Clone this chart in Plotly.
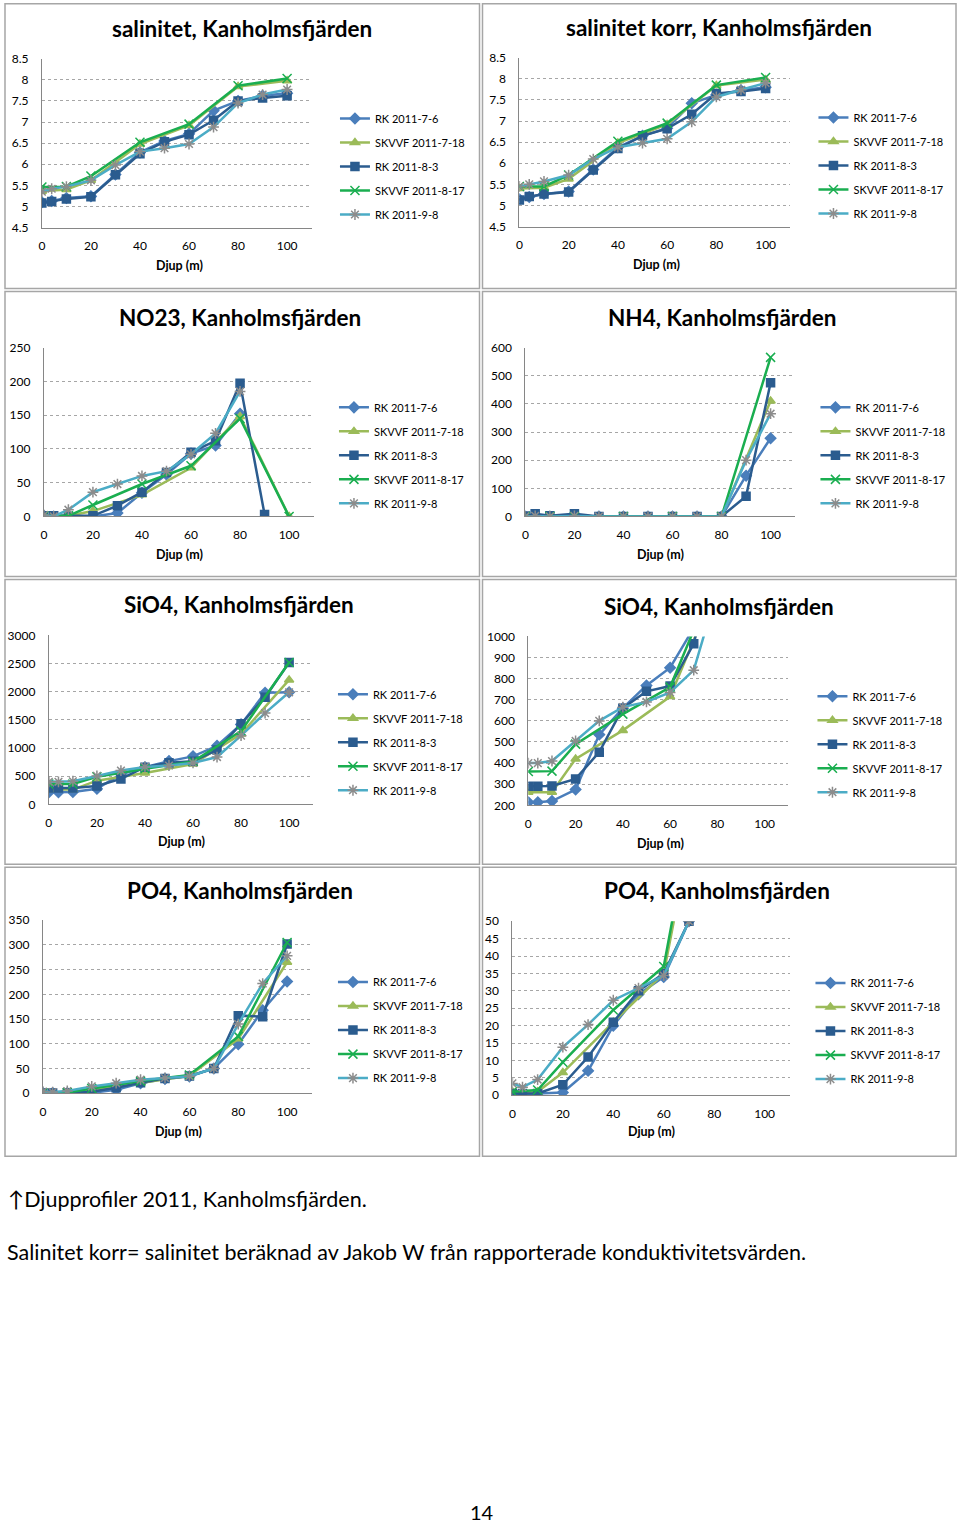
import plotly.graph_objects as go

# ---------------- data ----------------
DEPTH_RK = [0, 4, 10, 20, 30, 40, 50, 60, 70, 80, 90, 100]
DEPTH_SKVVF = [0, 10, 20, 40, 60, 80, 100]

SERIES_NAMES = ["RK 2011-7-6", "SKVVF 2011-7-18", "RK 2011-8-3", "SKVVF 2011-8-17", "RK 2011-9-8"]

sal_rk_0706 = [5.10, 5.13, 5.20, 5.24, 5.76, 6.28, 6.55, 6.72, 7.27, 7.50, 7.62, 7.68]
sal_sk_0718 = [5.36, 5.40, 5.62, 6.48, 6.92, 7.84, 7.98]
sal_rk_0803 = [5.08, 5.12, 5.18, 5.23, 5.75, 6.25, 6.53, 6.70, 7.04, 7.50, 7.57, 7.62]
sal_sk_0817 = [5.46, 5.47, 5.72, 6.52, 6.95, 7.86, 8.03]
sal_rk_0908 = [5.35, 5.42, 5.47, 5.62, 5.98, 6.30, 6.38, 6.48, 6.88, 7.45, 7.65, 7.77]

salk_rk_0706 = [5.15, 5.20, 5.27, 5.33, 5.85, 6.38, 6.65, 6.83, 7.42, 7.62, 7.73, 7.80]
salk_sk_0718 = [5.40, 5.42, 5.63, 6.48, 6.92, 7.84, 7.98]
salk_rk_0803 = [5.13, 5.21, 5.27, 5.32, 5.84, 6.35, 6.65, 6.82, 7.16, 7.65, 7.70, 7.77]
salk_sk_0817 = [5.45, 5.45, 5.72, 6.52, 6.95, 7.85, 8.03]
salk_rk_0908 = [5.45, 5.50, 5.57, 5.72, 6.10, 6.38, 6.48, 6.58, 6.98, 7.57, 7.74, 7.90]

no23_rk_0706 = [1, 0, 0, 0, 5, 35, 62, 93, 105, 152, None, None]
no23_sk_0718 = [1, 1, 8, 32, 72, 148, 0]
no23_rk_0803 = [1, 1, 0, 1, 16, 36, 65, 95, 112, 197, 3, None]
no23_sk_0817 = [1, 1, 17, 48, 75, 145, 0]
no23_rk_0908 = [2, 0, 10, 36, 48, 60, 67, 92, 123, 185, None, None]

nh4_rk_0706 = [0, 2, 0, 3, 0, 0, 0, 0, 0, 0, 145, 278]
nh4_sk_0718 = [0, 0, 0, 0, 0, 0, 410]
nh4_rk_0803 = [2, 10, 3, 10, 0, 0, 0, 0, 0, 0, 72, 475]
nh4_sk_0817 = [0, 0, 0, 0, 0, 0, 565]
nh4_rk_0908 = [0, 2, 0, 2, 0, 0, 0, 0, 0, 0, 200, 365]

sio4_rk_0706 = [215, 215, 220, 275, 535, 660, 768, 852, 1040, 1420, 1980, 1990]
sio4_sk_0718 = [262, 262, 420, 555, 715, 1250, 2210]
sio4_rk_0803 = [290, 290, 292, 325, 452, 660, 740, 765, 965, 1430, 1900, 2520]
sio4_sk_0817 = [360, 362, 490, 632, 760, 1300, 2520]
sio4_rk_0908 = [400, 400, 410, 505, 600, 665, 690, 735, 840, 1220, 1620, 1990]

po4_rk_0706 = [0.3, 0.3, 0.5, 0.8, 7, 20, 29, 34, 50, 99, 168, 226]
po4_sk_0718 = [1, 1, 6.5, 21, 35, 110, 265]
po4_rk_0803 = [0.5, 0.5, 0.5, 3, 11, 21, 30, 35, 50, 157, 155, 302]
po4_sk_0817 = [1, 1.5, 9.5, 24.5, 37, 115, 305]
po4_rk_0908 = [3.4, 2.3, 4.5, 13.8, 20.3, 27.3, 30.8, 34.4, 50, 140, 222, 278]

TITLES = ["salinitet, Kanholmsfjärden", "salinitet korr, Kanholmsfjärden",
          "NO23, Kanholmsfjärden", "NH4, Kanholmsfjärden",
          "SiO4, Kanholmsfjärden", "SiO4, Kanholmsfjärden",
          "PO4, Kanholmsfjärden", "PO4, Kanholmsfjärden"]
X_TITLE = "Djup (m)"
CAPTION1 = "\u2191Djupprofiler 2011, Kanholmsfjärden."
CAPTION2 = "Salinitet korr= salinitet beräknad av Jakob W från rapporterade konduktivitetsvärden."
PAGE_NO = "14"

PANEL_DATA = [
    [sal_rk_0706, sal_sk_0718, sal_rk_0803, sal_sk_0817, sal_rk_0908],
    [salk_rk_0706, salk_sk_0718, salk_rk_0803, salk_sk_0817, salk_rk_0908],
    [no23_rk_0706, no23_sk_0718, no23_rk_0803, no23_sk_0817, no23_rk_0908],
    [nh4_rk_0706, nh4_sk_0718, nh4_rk_0803, nh4_sk_0817, nh4_rk_0908],
    [sio4_rk_0706, sio4_sk_0718, sio4_rk_0803, sio4_sk_0817, sio4_rk_0908],
    [sio4_rk_0706, sio4_sk_0718, sio4_rk_0803, sio4_sk_0817, sio4_rk_0908],
    [po4_rk_0706, po4_sk_0718, po4_rk_0803, po4_sk_0817, po4_rk_0908],
    [po4_rk_0706, po4_sk_0718, po4_rk_0803, po4_sk_0817, po4_rk_0908],
]
Y_RANGES = [(4.5, 8.5, 0.5), (4.5, 8.5, 0.5), (0, 250, 50), (0, 600, 100),
            (0, 3000, 500), (200, 1000, 100), (0, 350, 50), (0, 50, 5)]

# ---------------- styling / layout ----------------
W, H = 960, 1523
FONT = "Lato, 'Open Sans', sans-serif"
LINE_COLORS = ["#4A7EBB", "#9BBB59", "#2B5C8F", "#1AAE50", "#4BACC6"]
MARKER_COLORS = ["#4A7EBB", "#9BBB59", "#2B5C8F", "#1AAE50", "#8C8C8C"]
SYMBOLS = ["diamond", "triangle-up", "square", "x-thin", "asterisk"]
SIZES = [8, 8, 8, 9, 9]


# target-pixel -> page-pixel correction (measured rendering offset/scale)
def PX(x):
    return (x - 2.0) / W


def PY(y):
    return 1 - ((y - 8.3) / 0.9906) / H


# panel frames (px): x0, y0, x1, y1
FRAMES = [(4, 4, 480, 289), (483, 4, 958, 289),
          (4, 292, 480, 577), (483, 292, 958, 577),
          (4, 580, 480, 865), (483, 580, 958, 865),
          (4, 868, 480, 1157), (483, 868, 958, 1157)]
# plot areas: x at 0, x at 100, y top, y bottom (px)
AREAS = [(41, 287, 59, 228), (520, 767, 58, 227),
         (43, 289, 348, 517), (526, 772, 348, 517),
         (48, 289, 636, 805), (529, 766, 637, 806),
         (42, 287, 921, 1094), (513, 766, 922, 1096)]
TITLE_POS = [(242, 29), (720, 28), (240, 318), (723, 318),
             (239, 605), (720, 607), (240, 891), (718, 891)]
XT_POS = [(179, 266), (658, 265), (179, 555), (662, 555),
          (181, 842), (662, 844), (178, 1132), (653, 1132)]
# legend: x where text starts, y of first item centre
LEG_POS = [(377, 119), (857, 118), (376, 408), (859, 408),
           (375, 695), (856, 697), (375, 983), (854, 984)]
XMAX = 110

fig = go.Figure()
layout = dict(width=W, height=H, margin=dict(l=0, r=0, t=0, b=0),
              paper_bgcolor="white", plot_bgcolor="white",
              font=dict(family=FONT, size=12, color="#000000"))
annotations = []
shapes = []

for k in range(8):
    ax = "" if k == 0 else str(k + 1)
    x0p, x100p, ytp, ybp = AREAS[k]
    xr = x0p + XMAX * (x100p - x0p) / 100.0
    lo, hi, dt = Y_RANGES[k]
    layout["xaxis" + ax] = dict(domain=[PX(x0p), PX(xr)], range=[0, XMAX],
                                tickvals=[0, 20, 40, 60, 80, 100], showgrid=False,
                                showline=True, linecolor="#868686", linewidth=1,
                                zeroline=False, ticks="", ticklabelstandoff=7,
                                tickfont=dict(size=12, family=FONT), anchor="y" + ax)
    layout["yaxis" + ax] = dict(domain=[PY(ybp), PY(ytp)], range=[lo, hi],
                                dtick=dt, tick0=lo, showgrid=True, gridcolor="#A6A6A6",
                                griddash="dot", gridwidth=1,
                                showline=True, linecolor="#868686", linewidth=1,
                                zeroline=False, ticks="", ticklabelstandoff=10,
                                tickfont=dict(size=12, family=FONT), anchor="x" + ax)
    lx, ly = LEG_POS[k]
    lname = "legend" if k == 0 else "legend" + str(k + 1)
    layout[lname] = dict(x=PX(lx - 42), y=PY(ly) + 14.8 / H, xanchor="left", yanchor="top",
                         bgcolor="rgba(0,0,0,0)", borderwidth=0, itemwidth=30,
                         tracegroupgap=5, font=dict(size=11, family=FONT, color="#000"))
    for i in range(5):
        xs = DEPTH_SKVVF if i in (1, 3) else DEPTH_RK
        fig.add_trace(go.Scatter(
            x=xs, y=PANEL_DATA[k][i], name=SERIES_NAMES[i], mode="lines+markers",
            line=dict(color=LINE_COLORS[i], width=2.5),
            marker=dict(symbol=SYMBOLS[i], size=SIZES[i], color=MARKER_COLORS[i],
                        line=dict(color=MARKER_COLORS[i], width=1.5)),
            connectgaps=False, xaxis="x" + ax, yaxis="y" + ax,
            legend=lname, legendgroup="p%ds%d" % (k, i), showlegend=True))
    tx, ty = TITLE_POS[k]
    annotations.append(dict(text="<b>%s</b>" % TITLES[k], x=PX(tx), y=PY(ty),
                            xref="paper", yref="paper", showarrow=False,
                            xanchor="center", yanchor="middle",
                            font=dict(size=22.5, family=FONT, color="#000")))
    ax_x, ax_y = XT_POS[k]
    annotations.append(dict(text="<b>%s</b>" % X_TITLE, x=PX(ax_x), y=PY(ax_y),
                            xref="paper", yref="paper", showarrow=False,
                            xanchor="center", yanchor="middle",
                            font=dict(size=12.5, family=FONT, color="#000")))
    fx0, fy0, fx1, fy1 = FRAMES[k]
    shapes.append(dict(type="rect", xref="paper", yref="paper",
                       x0=PX(fx0), x1=PX(fx1), y0=PY(fy1), y1=PY(fy0),
                       line=dict(color="#A6A6A6", width=1.5), fillcolor="rgba(0,0,0,0)"))

annotations.append(dict(text=CAPTION1, x=PX(5), y=PY(1200), xref="paper", yref="paper",
                        showarrow=False, xanchor="left", yanchor="middle",
                        font=dict(size=21.5, family=FONT, color="#000")))
annotations.append(dict(text=CAPTION2, x=PX(4), y=PY(1253), xref="paper", yref="paper",
                        showarrow=False, xanchor="left", yanchor="middle",
                        font=dict(size=21.5, family=FONT, color="#000")))
annotations.append(dict(text=PAGE_NO, x=PX(482), y=PY(1513), xref="paper", yref="paper",
                        showarrow=False, xanchor="center", yanchor="middle",
                        font=dict(size=20, family=FONT, color="#000")))

layout["annotations"] = annotations
layout["shapes"] = shapes
fig.update_layout(**layout)
fig.write_html("out.html", config={"displayModeBar": False},
               post_script="document.body.style.margin='0';document.body.style.padding='0';"
                           "document.body.style.overflow='hidden';")
